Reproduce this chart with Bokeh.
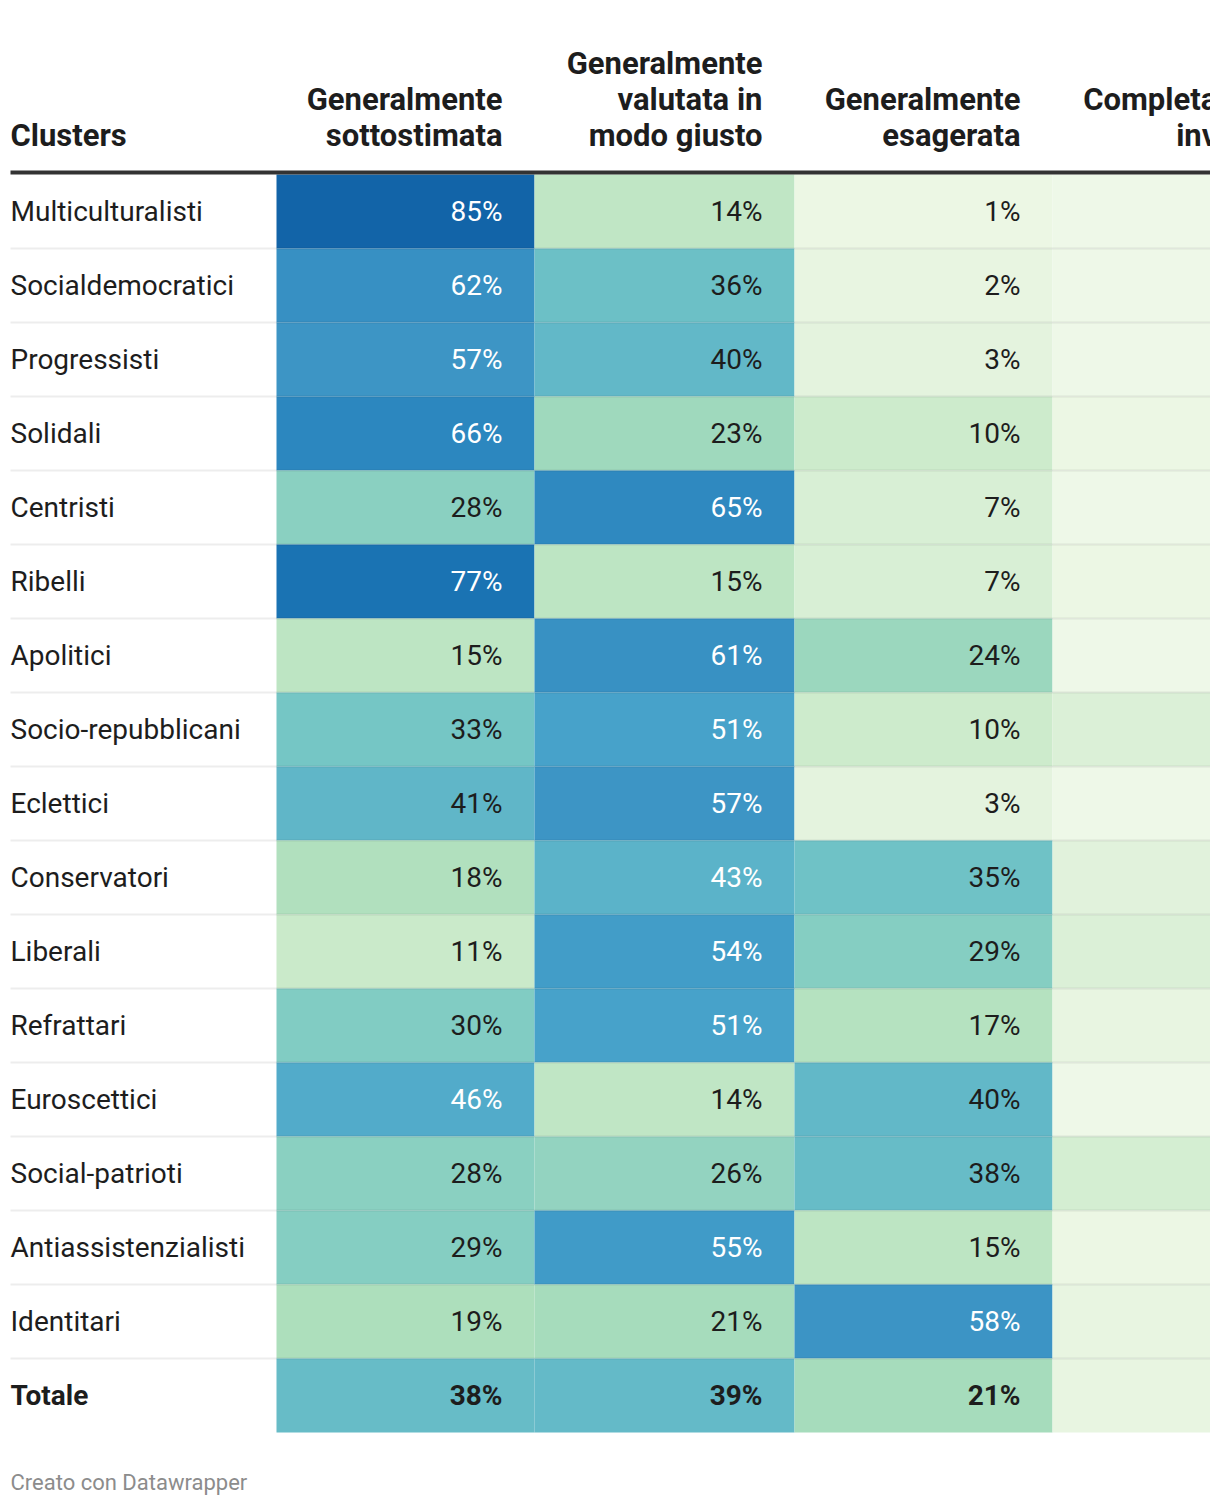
from bokeh.plotting import figure
from bokeh.models import ColumnDataSource, Range1d
from bokeh.core.properties import value
from bokeh.embed import file_html
from bokeh.resources import INLINE

# ---------------- data ----------------
clusters = ["Multiculturalisti", "Socialdemocratici", "Progressisti", "Solidali",
            "Centristi", "Ribelli", "Apolitici", "Socio-repubblicani", "Eclettici",
            "Conservatori", "Liberali", "Refrattari", "Euroscettici",
            "Social-patrioti", "Antiassistenzialisti", "Identitari"]
sottostimata = [85, 62, 57, 66, 28, 77, 15, 33, 41, 18, 11, 30, 46, 28, 29, 19]
giusto = [14, 36, 40, 23, 65, 15, 61, 51, 57, 43, 54, 51, 14, 26, 55, 21]
esagerata = [1, 2, 3, 10, 7, 7, 24, 10, 3, 35, 29, 17, 40, 38, 15, 58]
inventata = [0, 0, 0, 1, 0, 1, 0, 6, 0, 4, 6, 2, 0, 8, 1, 2]   # column cut off in the picture
totale_label = "Totale"
totale = [38, 39, 21, 2]
first_header = "Clusters"
headers = [["Generalmente", "sottostimata"],
           ["Generalmente", "valutata in", "modo giusto"],
           ["Generalmente", "esagerata"],
           ["Completamente", "inventata"]]
footer = "Creato con Datawrapper"

# ---------------- layout / style ----------------
FONT = "Roboto"
W, H = 1210, 1506
LX = 10.0                         # left of label column
X0 = 276.0                        # left of first value column
COLW = [258.0, 260.0, 258.0, 285.0]
Y0 = 174.0                        # top of first row
RH = 74.0                         # row height
PAD = 32.0
TXT = "#1d1d1d"

stops = [(0, "#eef8e8"), (1, "#ecf7e4"), (2, "#e8f5e1"), (3, "#e4f3de"),
         (7, "#d8efd5"), (10, "#cdebcc"), (15, "#bde5c3"), (19, "#addfbc"),
         (23, "#9fd9bd"), (26, "#93d3c0"), (29, "#85cec2"), (33, "#75c6c5"),
         (36, "#6cc0c6"), (40, "#62b8c8"), (43, "#5bb3c9"), (46, "#52abca"),
         (51, "#47a2ca"), (55, "#409bc8"), (57, "#3d95c5"), (62, "#3790c3"),
         (66, "#2c87bf"), (77, "#1a73b3"), (85, "#1264a8"), (100, "#0b559a")]


def hx(c):
    return tuple(int(c[i:i + 2], 16) for i in (1, 3, 5))


def cmap(v):
    for (a, ca), (b, cb) in zip(stops[:-1], stops[1:]):
        if a <= v <= b:
            t = 0 if b == a else (v - a) / (b - a)
            A, B = hx(ca), hx(cb)
            return "#%02x%02x%02x" % tuple(round(A[k] + (B[k] - A[k]) * t) for k in range(3))
    return stops[-1][1]


col_left = [X0]
for w in COLW[:-1]:
    col_left.append(col_left[-1] + w)

p = figure(width=W, height=H, output_backend="svg", toolbar_location=None,
           x_range=Range1d(0, W), y_range=Range1d(H, 0),
           min_border=0, outline_line_color=None)
p.axis.visible = False
p.grid.visible = False
p.background_fill_color = "white"
p.border_fill_color = "white"

series = [sottostimata, giusto, esagerata, inventata]
rows_vals = [[s[r] for s in series] for r in range(len(clusters))] + [totale]

L, R, T, B, C = [], [], [], [], []
tx, ty, tt, tc = [], [], [], []
btx, bty, btt, btc = [], [], [], []
for r, vals in enumerate(rows_vals):
    top = Y0 + r * RH
    for c, v in enumerate(vals):
        left = col_left[c]
        right = left + COLW[c]
        L.append(left); R.append(min(right, W)); T.append(top); B.append(top + RH)
        C.append(cmap(v))
        if right - PAD > W:        # value lies outside the visible area (cut off)
            continue
        total_row = r == len(clusters)
        col = "white" if (v >= 42 and not total_row) else TXT
        if not total_row:
            tx.append(right - PAD); ty.append(top + RH / 2); tt.append(f"{v}%"); tc.append(col)
        else:
            btx.append(right - PAD); bty.append(top + RH / 2); btt.append(f"{v}%"); btc.append(col)

p.quad(left="l", right="r", top="t", bottom="b", fill_color="c", line_color=None,
       source=ColumnDataSource(dict(l=L, r=R, t=T, b=B, c=C)))

# row separators
sep_y = [Y0 + (r + 1) * RH for r in range(len(clusters))]
p.segment(x0=[LX] * len(sep_y), x1=[W] * len(sep_y), y0=sep_y, y1=sep_y,
          line_color="black", line_alpha=0.07, line_width=2)

# header rule
p.quad(left=[LX], right=[W], top=[Y0 - 4], bottom=[Y0], fill_color="#333333", line_color=None)

# values
p.text(x="x", y="y", text="t", text_color="c",
       source=ColumnDataSource(dict(x=tx, y=ty, t=tt, c=tc)),
       text_font=value(FONT), text_font_size="28px", text_align="right",
       text_baseline="middle")
p.text(x="x", y="y", text="t", text_color="c",
       source=ColumnDataSource(dict(x=btx, y=bty, t=btt, c=btc)),
       text_font=value(FONT), text_font_size="28px", text_font_style="bold",
       text_align="right", text_baseline="middle")

# row labels
ly = [Y0 + r * RH + RH / 2 for r in range(len(clusters))]
p.text(x=[LX] * len(clusters), y=ly, text=clusters, text_color=TXT,
       text_font=value(FONT), text_font_size="28px", text_align="left",
       text_baseline="middle")
p.text(x=[LX], y=[Y0 + len(clusters) * RH + RH / 2], text=[totale_label],
       text_color=TXT, text_font=value(FONT), text_font_size="28px",
       text_font_style="bold", text_align="left", text_baseline="middle")

# headers (each line centred vertically at its own position)
base = Y0 - 39
LH = 36
hx_, hy_, ht_, ha_ = [LX], [base], [first_header], ["left"]
for c, lines in enumerate(headers):
    n = len(lines)
    for i, line in enumerate(lines):
        hx_.append(col_left[c] + COLW[c] - PAD)
        hy_.append(base - (n - 1 - i) * LH)
        ht_.append(line)
        ha_.append("right")
p.text(x="x", y="y", text="t", text_align="a",
       source=ColumnDataSource(dict(x=hx_, y=hy_, t=ht_, a=ha_)),
       text_color=TXT, text_font=value(FONT), text_font_size="31px",
       text_font_style="bold", text_baseline="middle")

# footer
p.text(x=[LX], y=[1482], text=[footer], text_color="#8c8c8c",
       text_font=value(FONT), text_font_size="22px", text_align="left",
       text_baseline="middle")

open("out.html", "w").write(file_html(p, INLINE))
